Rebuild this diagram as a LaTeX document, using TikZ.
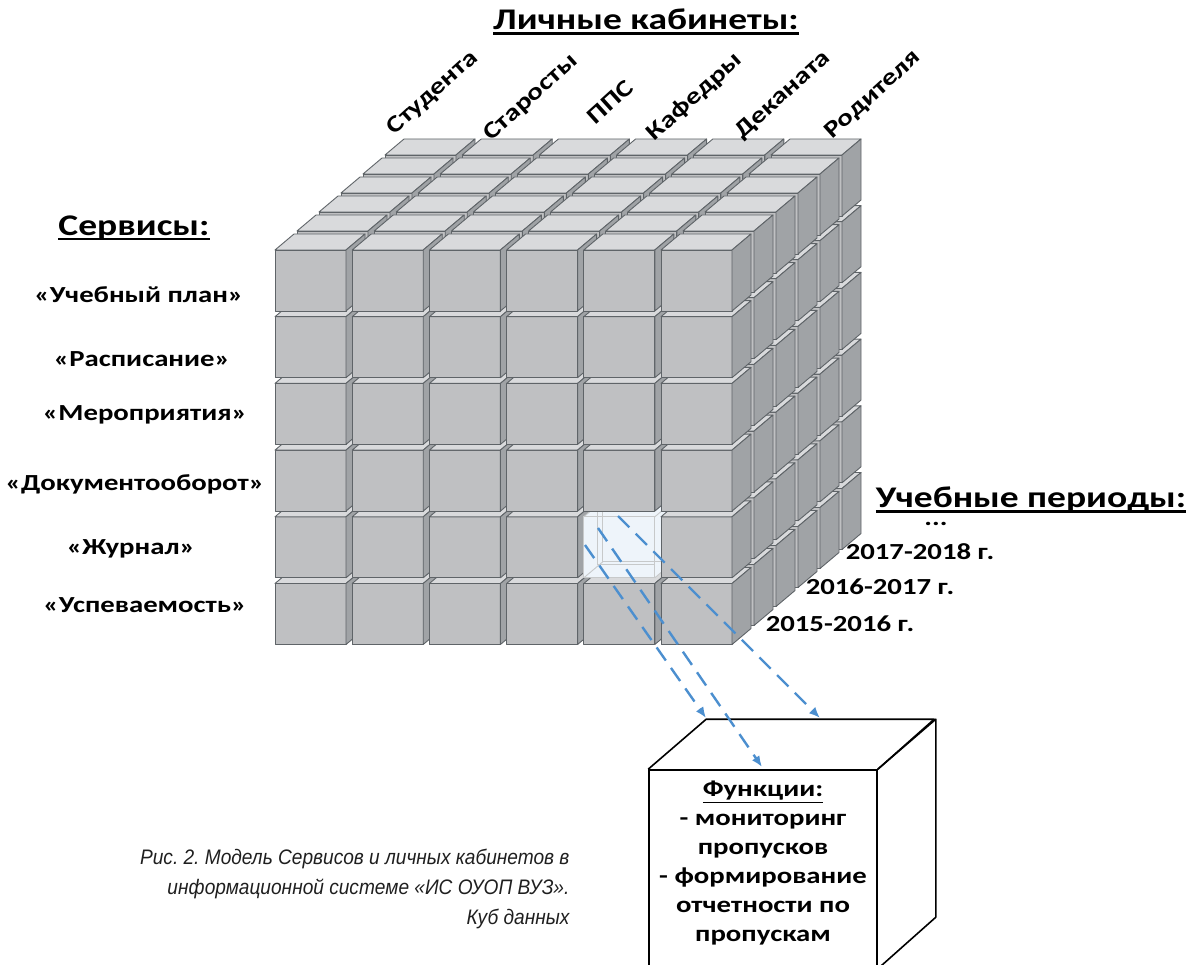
\documentclass[tikz,border=0pt]{standalone}
\usepackage{fontspec}
\setmainfont{Carlito}[FakeStretch=1.25]
\newfontfamily\capfont{Liberation Sans}[FakeStretch=0.91]
\usetikzlibrary{arrows.meta,positioning}
\frenchspacing

\definecolor{cfront}{HTML}{BFC0C2}
\definecolor{ctop}{HTML}{D9DADC}
\definecolor{cside}{HTML}{A0A3A6}
\definecolor{cedge}{HTML}{5F6468}
\definecolor{cglass}{HTML}{EEF4FA}
\definecolor{clink}{HTML}{4C8FCF}

\tikzstyle{face} = [draw=cedge, line width=0.9pt, line join=round]
\tikzstyle{glass} = [draw=cedge!35, line width=0.9pt]
\tikzstyle{srv} = [font=\fontsize{23}{28}\selectfont\bfseries]
\tikzstyle{kab} = [font=\fontsize{23.5}{28}\selectfont\bfseries, rotate=42, inner sep=1pt]
\tikzstyle{per} = [font=\fontsize{23}{28}\selectfont\bfseries]
\tikzstyle{head} = [font=\fontsize{30}{36}\selectfont\bfseries]
\tikzstyle{fbox} = [draw, line width=1.6pt, fill=white, minimum width=228pt, minimum height=198pt]
\tikzstyle{ftxt} = [font=\fontsize{23}{29}\selectfont\bfseries, align=center, inner sep=0pt]
\tikzstyle{capt} = [font=\capfont\itshape\fontsize{21}{30}\selectfont, text=black!88, align=right]
\tikzstyle{link} = [draw=clink, line width=2.4pt, dash pattern=on 16pt off 9pt, -{Latex[length=11pt,width=9pt]}]

% thick underline for the headings
\newcommand{\uline}[1]{\setbox0\hbox{#1}\rlap{\rule[-5pt]{\wd0}{2.4pt}}\box0}

% one grey block, top left corner of its front face at (#1,#2)
\newcommand{\cubeblock}[2]{%
  \begin{scope}[shift={(#1,#2)}]
    \filldraw[face, fill=cfront] (0,0) rectangle (71,61);
    \filldraw[face, fill=ctop] (0,0) -- (19,-16) -- (90,-16) -- (71,0) -- cycle;
    \filldraw[face, fill=cside] (71,0) -- (90,-16) -- (90,45) -- (71,61) -- cycle;
  \end{scope}}

% the selected block, drawn as glass
\newcommand{\glassblock}[2]{%
  \begin{scope}[shift={(#1,#2)}]
    \fill[cglass] (0,0) -- (19,-16) -- (90,-16) -- (90,45) -- (71,61) -- (0,61) -- cycle;
    \draw[glass] (14,-12) -- (14,48) -- (71,48);
    \draw[glass] (19,-16) -- (19,45) -- (90,45);
    \draw[glass] (0,61) -- (19,45);
    \draw[glass] (0,0) rectangle (71,61);
    \draw[glass] (0,0) -- (19,-16) -- (90,-16) -- (90,45) -- (71,61);
    \draw[glass] (71,0) -- (90,-16);
  \end{scope}}

\begin{document}
\begin{tikzpicture}[x=1pt, y=-1pt]
\useasboundingbox (0,0) rectangle (1188,965);
\clip (0,0) rectangle (1188,965);

% the data cube: back layer first, bottom row first
\foreach \k in {5,4,...,0}
  \foreach \r in {5,4,...,0}
    \foreach \c in {0,...,5}{
      \pgfmathsetmacro\bx{275+77.2*\c+22*\k}
      \pgfmathsetmacro\by{250+66.7*\r-19*\k}
      \pgfmathtruncatemacro\hl{(\k==0)&&(\r==4)&&(\c==4)}
      \ifnum\hl=1 \glassblock{\bx}{\by}\else\cubeblock{\bx}{\by}\fi
    }

% headings
\node[head] (kabinety) at (646,22) {\uline{Личные кабинеты:}};
\node[head] (servisy) at (134,228) {\uline{Сервисы:}};
\node[head] (periody) at (1031,500) {\uline{Учебные периоды:}};

% personal accounts
\node[kab] (student) at (433,93) {Студента};
\node[kab] (starosta) at (531,98) {Старосты};
\node[kab] (pps) at (610,102) {ППС};
\node[kab] (kafedra) at (695,97) {Кафедры};
\node[kab] (dekanat) at (783,95) {Деканата};
\node[kab] (roditel) at (873,95) {Родителя};

% services
\node[srv] (plan) at (139,295) {«Учебный план»};
\node[srv] (raspis) at (142,359) {«Расписание»};
\node[srv] (meropr) at (145,415) {«Мероприятия»};
\node[srv] (dokum) at (135,484) {«Документооборот»};
\node[srv] (zhurnal) at (131,549) {«Журнал»};
\node[srv] (uspev) at (145,605) {«Успеваемость»};

% periods
\node[per] (dots) at (936,524) {...};
\node[per] (p3) at (920,552) {2017-2018 г.};
\node[per] (p2) at (880,587) {2016-2017 г.};
\node[per] (p1) at (840,624) {2015-2016 г.};

% functions box
\node[fbox] (func) at (763,869) {};
\draw[line width=1.6pt, line join=round] (func.north west) -- ++(58,-50) -- ++(228,0) -- (func.north east);
\draw[line width=1.6pt, line join=round] (func.north east) -- ++(58,-50) -- ++(0,198) -- (func.south east);
\node[ftxt, below=12pt of func.north] (ftext) {\underline{Функции:}\\- мониторинг\\пропусков\\- формирование\\отчетности по\\пропускам};

% links from the selected block
\coordinate (g1) at (585,545);
\coordinate (g2) at (598,528);
\coordinate (g3) at (618,516);
\coordinate (t1) at (706,718);
\coordinate (t2) at (762,767);
\coordinate (t3) at (820,718);
\draw[link] (g1) -- (t1);
\draw[link] (g2) -- (t2);
\draw[link] (g3) -- (t3);

% caption
\node[capt, anchor=north east] (cap) at (573,846) {Рис. 2. Модель Сервисов и личных кабинетов в\\информационной системе «ИС ОУОП ВУЗ».\\Куб данных};
\end{tikzpicture}
\end{document}
